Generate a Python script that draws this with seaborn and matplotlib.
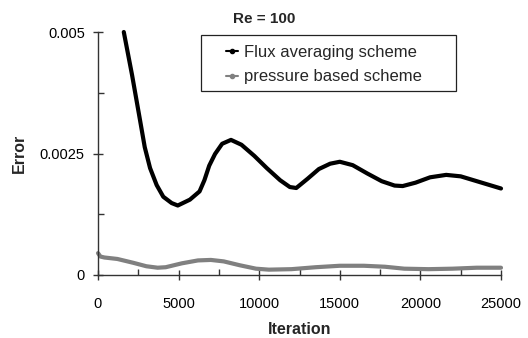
import numpy as np
import pandas as pd
import matplotlib
matplotlib.use("Agg")
import matplotlib.pyplot as plt
import seaborn as sns
from matplotlib.lines import Line2D
from matplotlib.patches import Rectangle
from matplotlib.ticker import MultipleLocator, FixedLocator, FixedFormatter

flux_x = [1600, 2110, 2605, 2900, 3230, 3640, 4050, 4570, 4950, 5700, 6300, 6600, 6900,
          7260, 7700, 8250, 8900, 9700, 10470, 11300, 11900, 12300, 13000, 13700, 14400,
          15000, 15800, 16700, 17600, 18400, 18900, 19700, 20600, 21600, 22500, 23500, 25000]
flux_y = [0.00500, 0.00412, 0.00319, 0.00263, 0.00220, 0.00185, 0.00161, 0.00148, 0.00143,
          0.00155, 0.00172, 0.00195, 0.00225, 0.00249, 0.00270, 0.00278, 0.00268, 0.00245,
          0.00220, 0.00195, 0.00181, 0.00179, 0.00198, 0.00218, 0.00229, 0.00233, 0.00226,
          0.00209, 0.00193, 0.00184, 0.00183, 0.00190, 0.00201, 0.00206, 0.00203, 0.00193,
          0.00178]

press_x = [0, 150, 400, 1200, 2200, 3000, 3700, 4200, 5200, 6200, 7000, 7800, 8800, 9800,
           10600, 12000, 13500, 15000, 16500, 17800, 19000, 20500, 22000, 23500, 25000]
press_y = [0.00045, 0.00038, 0.00036, 0.00033, 0.00025, 0.00018, 0.00015, 0.00016, 0.00024,
           0.00030, 0.00031, 0.00028, 0.00020, 0.00013, 0.00011, 0.00012, 0.00016, 0.00019,
           0.00019, 0.00017, 0.00013, 0.00012, 0.00013, 0.00015, 0.00015]

series_names = ["Flux averaging scheme", "pressure based scheme"]
x_ticks = [0, 5000, 10000, 15000, 20000, 25000]
y_ticks = [0, 0.0025, 0.005]
y_tick_labels = ["0", "0.0025", "0.005"]

sns.set_style("white")
plt.rcParams['font.family'] = ['Liberation Sans', 'DejaVu Sans']

df_flux = pd.DataFrame({"x": flux_x, "y": flux_y})
df_press = pd.DataFrame({"x": press_x, "y": press_y})

W, H = 528, 338
fig = plt.figure(figsize=(W/100, H/100), dpi=100)
ax = fig.add_axes([98/W, 1-275/H, (501-98)/W, (275-32)/H])

sns.lineplot(data=df_flux, x="x", y="y", ax=ax, color="black", lw=3, clip_on=False,
             solid_capstyle="round", solid_joinstyle="round", sort=False)
sns.lineplot(data=df_press, x="x", y="y", ax=ax, color="#808080", lw=3, clip_on=False,
             solid_capstyle="round", solid_joinstyle="round", sort=False)

ax.set_xlim(0, 25000)
ax.set_ylim(0, 0.005)
ax.xaxis.set_major_locator(FixedLocator(x_ticks))
ax.xaxis.set_minor_locator(MultipleLocator(2500))
ax.yaxis.set_major_locator(FixedLocator(y_ticks))
ax.yaxis.set_major_formatter(FixedFormatter(y_tick_labels))
ax.yaxis.set_minor_locator(MultipleLocator(0.00125))

for s in ["top", "right"]:
    ax.spines[s].set_visible(False)
for s in ["left", "bottom"]:
    ax.spines[s].set_color("#333333")
    ax.spines[s].set_linewidth(1.0)

ax.tick_params(which="major", direction="inout", length=7, width=1, color="#333333",
               labelsize=10.5, labelcolor="black", left=True, bottom=True)
ax.tick_params(which="minor", direction="in", length=4, width=1, color="#333333",
               left=True, bottom=True)
ax.tick_params(axis="x", pad=12)
ax.tick_params(axis="y", pad=6)

ax.set_xlabel("Iteration", fontsize=11.5, fontweight="bold", labelpad=8)
ax.set_ylabel("Error", fontsize=11.5, fontweight="bold", labelpad=9)

fig.text(264.5/W, 1-19/H, "Re = 100", ha="center", va="center", fontsize=11, fontweight="bold")

# legend frame
fig.patches.append(Rectangle((200.5/W, 1-91/H), (456-200.5)/W, (91-35.5)/H,
                             transform=fig.transFigure, fill=False, edgecolor="#222222",
                             linewidth=0.9, zorder=5))

handles = [Line2D([0], [0], color="black", lw=1.5, marker="o", ms=3),
           Line2D([0], [0], color="#808080", lw=1.5, marker="o", ms=3)]
leg = fig.legend(handles, series_names, loc="center left",
                 bbox_to_anchor=(226/W, 1-64.5/H), bbox_transform=fig.transFigure,
                 frameon=False, fontsize=12, handlelength=0.7,
                 handletextpad=0.35, borderpad=0, labelspacing=0.58, borderaxespad=0)

fig.savefig("out.png", dpi=100)
